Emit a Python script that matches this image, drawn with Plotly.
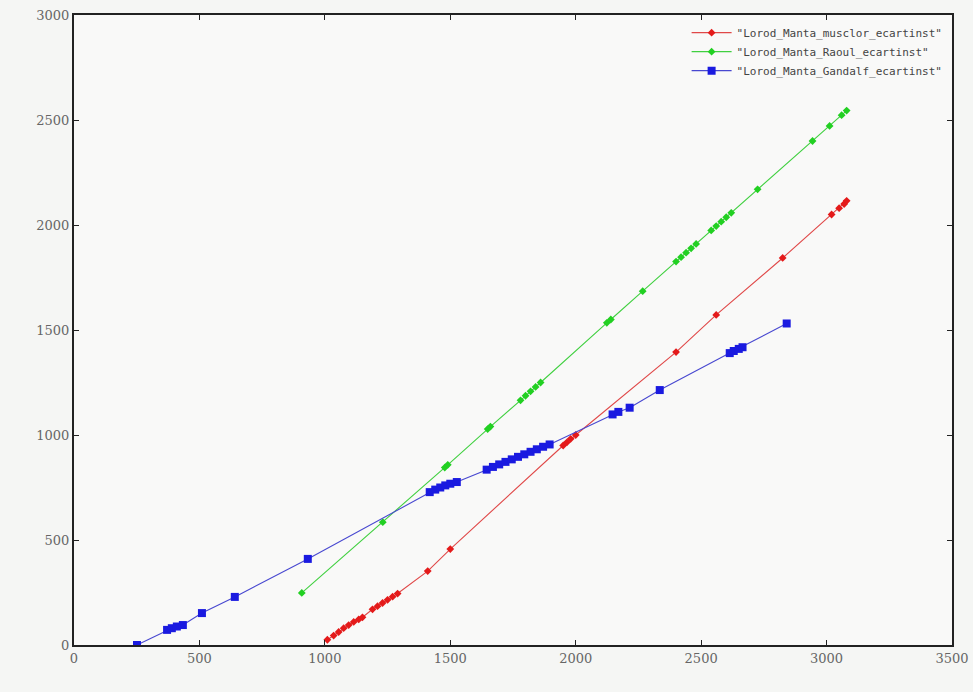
import plotly.graph_objects as go

# ---- data ----
red_name = '"Lorod_Manta_musclor_ecartinst"'
red_x = [1010, 1035, 1055, 1075, 1095, 1115, 1135, 1150, 1190, 1210, 1230, 1250, 1270, 1290,
         1410, 1500, 1950, 1965, 1980, 2000, 2400, 2560, 2825, 3020, 3050, 3070, 3080]
red_y = [25, 45, 62, 80, 95, 110, 122, 132, 170, 185, 200, 215, 230, 245,
         352, 457, 950, 965, 982, 1000, 1395, 1572, 1843, 2050, 2080, 2100, 2115]

green_name = '"Lorod_Manta_Raoul_ecartinst"'
green_x = [908, 1231, 1478, 1490, 1649, 1660, 1780, 1800, 1820, 1840, 1860, 2124, 2140, 2267,
           2400, 2420, 2440, 2460, 2480, 2540, 2560, 2580, 2600, 2620, 2725, 2944, 3012, 3060, 3080]
green_y = [248, 585, 845, 858, 1028, 1040, 1165, 1187, 1208, 1229, 1250, 1534, 1550, 1685,
           1826, 1847, 1868, 1889, 1910, 1974, 1995, 2016, 2037, 2058, 2170, 2400, 2472, 2523, 2545]

blue_name = '"Lorod_Manta_Gandalf_ecartinst"'
blue_x = [251, 371, 390, 410, 434, 510, 641, 932, 1418, 1440, 1460, 1480, 1500, 1526,
          1645, 1670, 1695, 1720, 1745, 1770, 1795, 1820, 1845, 1870, 1896,
          2147, 2170, 2215, 2335, 2614, 2630, 2650, 2665, 2841]
blue_y = [0, 72, 80, 88, 95, 152, 229, 410, 728, 740, 750, 760, 768, 776,
          835, 848, 860, 872, 884, 896, 908, 920, 932, 944, 955,
          1098, 1110, 1130, 1214, 1390, 1400, 1410, 1418, 1531]

x_ticks = [0, 500, 1000, 1500, 2000, 2500, 3000, 3500]
y_ticks = [0, 500, 1000, 1500, 2000, 2500, 3000]

fig = go.Figure()
fig.add_trace(go.Scatter(x=red_x, y=red_y, name=red_name, mode="lines+markers",
                         line=dict(color="#e04848", width=1.1),
                         marker=dict(color="#e41a1a", size=6, symbol="diamond")))
fig.add_trace(go.Scatter(x=green_x, y=green_y, name=green_name, mode="lines+markers",
                         line=dict(color="#40d040", width=1.1),
                         marker=dict(color="#22d022", size=6, symbol="diamond")))
fig.add_trace(go.Scatter(x=blue_x, y=blue_y, name=blue_name, mode="lines+markers",
                         line=dict(color="#4848d0", width=1.1),
                         marker=dict(color="#1a1ae0", size=8, symbol="square")))

axis_common = dict(showgrid=False, zeroline=False, showline=True, linecolor="#222",
                   linewidth=2, mirror="ticks", ticks="inside", ticklen=5, tickcolor="#222",
                   automargin=False,
                   tickfont=dict(family="DejaVu Serif", size=13, color="#666"))
fig.update_xaxes(range=[0, 3500], tickvals=x_ticks, **axis_common)
fig.update_yaxes(range=[0, 3000], tickvals=y_ticks, **axis_common)

fig.update_layout(
    width=973, height=692,
    margin=dict(l=74, r=21, t=15, b=47),
    paper_bgcolor="#f5f6f4", plot_bgcolor="#f9f9f8",
    legend=dict(x=0.995, y=0.995, xanchor="right", yanchor="top",
                bgcolor="rgba(0,0,0,0)", borderwidth=0,
                font=dict(family="DejaVu Sans Mono", size=11, color="#444"),
                itemwidth=40, tracegroupgap=0),
)
fig.write_html("out.html")
